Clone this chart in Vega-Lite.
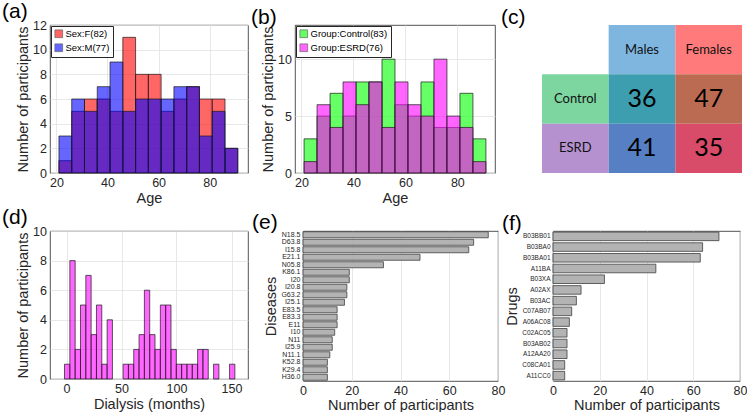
{
  "$schema": "https://vega.github.io/schema/vega-lite/v6.json",
  "padding": {"left": 1, "top": 0, "right": 0, "bottom": 0},
  "background": "white",
  "datasets": {
    "ageSex": [
      {"lo": 21, "hi": 26, "grp": "Sex:F(82)", "n": 1},
      {"lo": 26, "hi": 31, "grp": "Sex:F(82)", "n": 5},
      {"lo": 31, "hi": 36, "grp": "Sex:F(82)", "n": 6},
      {"lo": 36, "hi": 41, "grp": "Sex:F(82)", "n": 6},
      {"lo": 41, "hi": 46, "grp": "Sex:F(82)", "n": 5},
      {"lo": 46, "hi": 51, "grp": "Sex:F(82)", "n": 11},
      {"lo": 51, "hi": 56, "grp": "Sex:F(82)", "n": 8},
      {"lo": 56, "hi": 61, "grp": "Sex:F(82)", "n": 8},
      {"lo": 61, "hi": 66, "grp": "Sex:F(82)", "n": 5},
      {"lo": 66, "hi": 71, "grp": "Sex:F(82)", "n": 6},
      {"lo": 71, "hi": 76, "grp": "Sex:F(82)", "n": 7},
      {"lo": 76, "hi": 81, "grp": "Sex:F(82)", "n": 6},
      {"lo": 81, "hi": 86, "grp": "Sex:F(82)", "n": 6},
      {"lo": 86, "hi": 91, "grp": "Sex:F(82)", "n": 2},
      {"lo": 21, "hi": 26, "grp": "Sex:M(77)", "n": 3},
      {"lo": 26, "hi": 31, "grp": "Sex:M(77)", "n": 6},
      {"lo": 31, "hi": 36, "grp": "Sex:M(77)", "n": 5},
      {"lo": 36, "hi": 41, "grp": "Sex:M(77)", "n": 7},
      {"lo": 41, "hi": 46, "grp": "Sex:M(77)", "n": 9},
      {"lo": 46, "hi": 51, "grp": "Sex:M(77)", "n": 5},
      {"lo": 51, "hi": 56, "grp": "Sex:M(77)", "n": 6},
      {"lo": 56, "hi": 61, "grp": "Sex:M(77)", "n": 6},
      {"lo": 61, "hi": 66, "grp": "Sex:M(77)", "n": 6},
      {"lo": 66, "hi": 71, "grp": "Sex:M(77)", "n": 7},
      {"lo": 71, "hi": 76, "grp": "Sex:M(77)", "n": 7},
      {"lo": 76, "hi": 81, "grp": "Sex:M(77)", "n": 3},
      {"lo": 81, "hi": 86, "grp": "Sex:M(77)", "n": 5},
      {"lo": 86, "hi": 91, "grp": "Sex:M(77)", "n": 2}
    ],
    "ageGroup": [
      {"lo": 21, "hi": 26, "grp": "Group:Control(83)", "n": 3},
      {"lo": 26, "hi": 31, "grp": "Group:Control(83)", "n": 5},
      {"lo": 31, "hi": 36, "grp": "Group:Control(83)", "n": 7},
      {"lo": 36, "hi": 41, "grp": "Group:Control(83)", "n": 5},
      {"lo": 41, "hi": 46, "grp": "Group:Control(83)", "n": 8},
      {"lo": 46, "hi": 51, "grp": "Group:Control(83)", "n": 8},
      {"lo": 51, "hi": 56, "grp": "Group:Control(83)", "n": 10},
      {"lo": 56, "hi": 61, "grp": "Group:Control(83)", "n": 6},
      {"lo": 61, "hi": 66, "grp": "Group:Control(83)", "n": 5},
      {"lo": 66, "hi": 71, "grp": "Group:Control(83)", "n": 8},
      {"lo": 71, "hi": 76, "grp": "Group:Control(83)", "n": 4},
      {"lo": 76, "hi": 81, "grp": "Group:Control(83)", "n": 4},
      {"lo": 81, "hi": 86, "grp": "Group:Control(83)", "n": 7},
      {"lo": 86, "hi": 91, "grp": "Group:Control(83)", "n": 3},
      {"lo": 21, "hi": 26, "grp": "Group:ESRD(76)", "n": 1},
      {"lo": 26, "hi": 31, "grp": "Group:ESRD(76)", "n": 6},
      {"lo": 31, "hi": 36, "grp": "Group:ESRD(76)", "n": 4},
      {"lo": 36, "hi": 41, "grp": "Group:ESRD(76)", "n": 8},
      {"lo": 41, "hi": 46, "grp": "Group:ESRD(76)", "n": 6},
      {"lo": 46, "hi": 51, "grp": "Group:ESRD(76)", "n": 8},
      {"lo": 51, "hi": 56, "grp": "Group:ESRD(76)", "n": 4},
      {"lo": 56, "hi": 61, "grp": "Group:ESRD(76)", "n": 8},
      {"lo": 61, "hi": 66, "grp": "Group:ESRD(76)", "n": 6},
      {"lo": 66, "hi": 71, "grp": "Group:ESRD(76)", "n": 5},
      {"lo": 71, "hi": 76, "grp": "Group:ESRD(76)", "n": 10},
      {"lo": 76, "hi": 81, "grp": "Group:ESRD(76)", "n": 5},
      {"lo": 81, "hi": 86, "grp": "Group:ESRD(76)", "n": 4},
      {"lo": 86, "hi": 91, "grp": "Group:ESRD(76)", "n": 1}
    ],
    "table": [
      {"row": "hdr", "col": "Males", "key": "hdrM", "label": "Males", "kind": "head"},
      {"row": "hdr", "col": "Females", "key": "hdrF", "label": "Females", "kind": "head"},
      {"row": "Control", "col": "label", "key": "lblC", "label": "Control", "kind": "head"},
      {"row": "ESRD", "col": "label", "key": "lblE", "label": "ESRD", "kind": "head"},
      {"row": "Control", "col": "Males", "key": "CM", "label": "36", "kind": "num"},
      {"row": "Control", "col": "Females", "key": "CF", "label": "47", "kind": "num"},
      {"row": "ESRD", "col": "Males", "key": "EM", "label": "41", "kind": "num"},
      {"row": "ESRD", "col": "Females", "key": "EF", "label": "35", "kind": "num"}
    ],
    "dialysis": [
      {"lo": -1.8, "hi": 3.04, "n": 1},
      {"lo": 3.04, "hi": 7.88, "n": 8},
      {"lo": 7.88, "hi": 12.72, "n": 2},
      {"lo": 12.72, "hi": 17.56, "n": 5},
      {"lo": 17.56, "hi": 22.4, "n": 7},
      {"lo": 22.4, "hi": 27.24, "n": 3},
      {"lo": 27.24, "hi": 32.08, "n": 5},
      {"lo": 32.08, "hi": 36.92, "n": 1},
      {"lo": 36.92, "hi": 41.76, "n": 4},
      {"lo": 51.44, "hi": 56.28, "n": 1},
      {"lo": 56.28, "hi": 61.12, "n": 1},
      {"lo": 61.12, "hi": 65.96, "n": 2},
      {"lo": 65.96, "hi": 70.8, "n": 3},
      {"lo": 70.8, "hi": 75.64, "n": 6},
      {"lo": 75.64, "hi": 80.48, "n": 3},
      {"lo": 80.48, "hi": 85.32, "n": 2},
      {"lo": 85.32, "hi": 90.16, "n": 5},
      {"lo": 90.16, "hi": 95, "n": 5},
      {"lo": 95, "hi": 99.84, "n": 2},
      {"lo": 99.84, "hi": 104.68, "n": 1},
      {"lo": 104.68, "hi": 109.52, "n": 1},
      {"lo": 109.52, "hi": 114.36, "n": 1},
      {"lo": 114.36, "hi": 119.2, "n": 1},
      {"lo": 119.2, "hi": 124.04, "n": 2},
      {"lo": 124.04, "hi": 128.88, "n": 2},
      {"lo": 133.72, "hi": 138.56, "n": 1},
      {"lo": 148.24, "hi": 153.08, "n": 1}
    ],
    "diseases": [
      {"code": "N18.5", "n": 76},
      {"code": "D63.8", "n": 70},
      {"code": "I15.8", "n": 68},
      {"code": "E21.1", "n": 48},
      {"code": "N05.8", "n": 33},
      {"code": "K86.1", "n": 19},
      {"code": "I20", "n": 19},
      {"code": "I20.8", "n": 18},
      {"code": "G63.2", "n": 18},
      {"code": "I25.1", "n": 17},
      {"code": "E83.5", "n": 14},
      {"code": "E83.3", "n": 14},
      {"code": "E11", "n": 14},
      {"code": "I10", "n": 13},
      {"code": "N11", "n": 12},
      {"code": "I25.9", "n": 12},
      {"code": "N11.1", "n": 11},
      {"code": "K52.8", "n": 10},
      {"code": "K29.4", "n": 10},
      {"code": "H36.0", "n": 10}
    ],
    "drugs": [
      {"code": "B03BB01", "n": 71},
      {"code": "B03BA0", "n": 64},
      {"code": "B03BA01", "n": 63},
      {"code": "A11BA", "n": 44},
      {"code": "B03XA", "n": 22},
      {"code": "A02AX", "n": 12},
      {"code": "B03AC", "n": 10},
      {"code": "C07AB07", "n": 8},
      {"code": "A06AC08", "n": 7},
      {"code": "C02AC05", "n": 6},
      {"code": "B03AB02", "n": 6},
      {"code": "A12AA20", "n": 6},
      {"code": "C08CA01", "n": 5},
      {"code": "A11CC0", "n": 5}
    ]
  },
  "config": {
    "font": "Liberation Sans",
    "view": {"stroke": "#262626", "strokeWidth": 0.8},
    "axis": {
      "domain": false,
      "ticks": false,
      "labelFont": "Liberation Sans",
      "labelFontSize": 12.5,
      "labelColor": "#262626",
      "labelPadding": 3.5,
      "labelFlush": false,
      "labelOverlap": false,
      "titleFont": "Liberation Sans",
      "titleFontSize": 14.5,
      "titleFontWeight": "normal",
      "titleColor": "#262626",
      "titlePadding": 2,
      "gridColor": "#e2e2e2",
      "gridWidth": 0.8
    },
    "title": {
      "font": "Liberation Sans",
      "fontSize": 21,
      "fontWeight": "normal",
      "color": "#000000",
      "anchor": "start",
      "frame": "group",
      "baseline": "alphabetic",
      "offset": 6.5,
      "dy": 9
    },
    "legend": {
      "title": null,
      "orient": "top-left",
      "offset": 1,
      "padding": 3,
      "strokeColor": "#262626",
      "fillColor": "white",
      "symbolType": "square",
      "symbolSize": 60,
      "symbolStrokeColor": "#000000",
      "symbolStrokeWidth": 0.7,
      "symbolOpacity": 0.6,
      "labelFont": "Liberation Sans",
      "labelFontSize": 9.5,
      "labelColor": "#000000",
      "labelOffset": 2,
      "rowPadding": 2
    }
  },
  "spacing": 1,
  "resolve": {"scale": {"color": "independent"}, "legend": {"color": "independent"}},
  "vconcat": [
    {
      "spacing": 47,
      "bounds": "flush",
      "resolve": {"scale": {"color": "independent"}, "legend": {"color": "independent"}},
      "hconcat": [
        {
          "width": 198,
          "height": 148,
          "title": {"text": "(a)", "dx": -48},
          "data": {"name": "ageSex"},
          "mark": {"type": "bar", "fillOpacity": 0.6, "stroke": "#1a1a1a", "strokeWidth": 0.7},
          "encoding": {
            "x": {"field": "lo", "type": "quantitative", "scale": {"domain": [17.5, 95]}, "axis": {"values": [20, 40, 60, 80], "title": "Age"}},
            "x2": {"field": "hi"},
            "y": {"field": "n", "type": "quantitative", "stack": null, "scale": {"domain": [0, 12]}, "axis": {"values": [0, 2, 4, 6, 8, 10, 12], "title": "Number of participants"}},
            "y2": {"datum": 0},
            "color": {"field": "grp", "type": "nominal", "scale": {"domain": ["Sex:F(82)", "Sex:M(77)"], "range": ["#ff0000", "#0000ff"]}}
          }
        },
        {
          "width": 200,
          "height": 148,
          "title": {"text": "(b)", "dx": -44},
          "data": {"name": "ageGroup"},
          "mark": {"type": "bar", "fillOpacity": 0.6, "stroke": "#1a1a1a", "strokeWidth": 0.7},
          "encoding": {
            "x": {"field": "lo", "type": "quantitative", "scale": {"domain": [17.5, 94.5]}, "axis": {"values": [20, 40, 60, 80], "title": "Age"}},
            "x2": {"field": "hi"},
            "y": {"field": "n", "type": "quantitative", "stack": null, "scale": {"domain": [0, 13]}, "axis": {"values": [0, 5, 10], "title": "Number of participants"}},
            "y2": {"datum": 0},
            "color": {"field": "grp", "type": "nominal", "scale": {"domain": ["Group:Control(83)", "Group:ESRD(76)"], "range": ["#00ff00", "#ff00ff"]}}
          }
        },
        {
          "width": 200,
          "height": 148,
          "title": {"text": "(c)", "dx": -41},
          "data": {"name": "table"},
          "view": {"stroke": null},
          "encoding": {
            "x": {"field": "col", "type": "nominal", "scale": {"domain": ["label", "Males", "Females"], "paddingInner": 0, "paddingOuter": 0}, "axis": null},
            "y": {"field": "row", "type": "nominal", "scale": {"domain": ["hdr", "Control", "ESRD"], "paddingInner": 0, "paddingOuter": 0}, "axis": null}
          },
          "layer": [
            {
              "mark": {"type": "rect"},
              "encoding": {
                "color": {"field": "key", "type": "nominal", "legend": null, "scale": {"domain": ["hdrM", "hdrF", "lblC", "lblE", "CM", "CF", "EM", "EF"], "range": ["#7fb6e0", "#ff7b7b", "#7dd6a0", "#b592cf", "#3c9eaf", "#bc6b53", "#577fc3", "#d84c69"]}}
              }
            },
            {
              "transform": [{"filter": "datum.kind === 'head'"}],
              "mark": {"type": "text", "font": "Lato", "fontSize": 13, "color": "#111111"},
              "encoding": {"text": {"field": "label"}}
            },
            {
              "transform": [{"filter": "datum.kind === 'num'"}],
              "mark": {"type": "text", "font": "Lato", "fontSize": 25, "color": "#000000"},
              "encoding": {"text": {"field": "label"}}
            }
          ]
        }
      ]
    },
    {
      "spacing": 55,
      "bounds": "flush",
      "hconcat": [
        {
          "width": 198,
          "height": 148,
          "title": {"text": "(d)", "dx": -48},
          "data": {"name": "dialysis"},
          "mark": {"type": "bar", "fill": "#ff00ff", "fillOpacity": 0.6, "stroke": "#1a1a1a", "strokeWidth": 0.7},
          "encoding": {
            "x": {"field": "lo", "type": "quantitative", "scale": {"domain": [-15, 165]}, "axis": {"values": [0, 50, 100, 150], "title": "Dialysis (months)"}},
            "x2": {"field": "hi"},
            "y": {"field": "n", "type": "quantitative", "scale": {"domain": [0, 10]}, "axis": {"values": [0, 2, 4, 6, 8, 10], "title": "Number of participants"}},
            "y2": {"datum": 0}
          }
        },
        {
          "width": 195,
          "height": 150,
          "title": {"text": "(e)", "dx": -51},
          "data": {"name": "diseases"},
          "mark": {"type": "bar", "fill": "#b3b3b3", "stroke": "#404040", "strokeWidth": 0.8},
          "encoding": {
            "y": {"field": "code", "type": "nominal", "sort": null, "scale": {"paddingInner": 0.2, "paddingOuter": 0.1}, "axis": {"title": "Diseases", "labelFontSize": 7, "grid": false, "labelPadding": 3}},
            "x": {"field": "n", "type": "quantitative", "scale": {"domain": [0, 80]}, "axis": {"values": [0, 20, 40, 60, 80], "title": "Number of participants", "titlePadding": 1}}
          }
        },
        {
          "width": 187,
          "height": 150,
          "title": {"text": "(f)", "dx": -51},
          "data": {"name": "drugs"},
          "mark": {"type": "bar", "fill": "#b3b3b3", "stroke": "#404040", "strokeWidth": 0.8},
          "encoding": {
            "y": {"field": "code", "type": "nominal", "sort": null, "scale": {"paddingInner": 0.2, "paddingOuter": 0.1}, "axis": {"title": "Drugs", "labelFontSize": 6.5, "grid": false, "labelPadding": 3}},
            "x": {"field": "n", "type": "quantitative", "scale": {"domain": [0, 80]}, "axis": {"values": [0, 20, 40, 60, 80], "title": "Number of participants", "titlePadding": 1}}
          }
        }
      ]
    }
  ]
}
